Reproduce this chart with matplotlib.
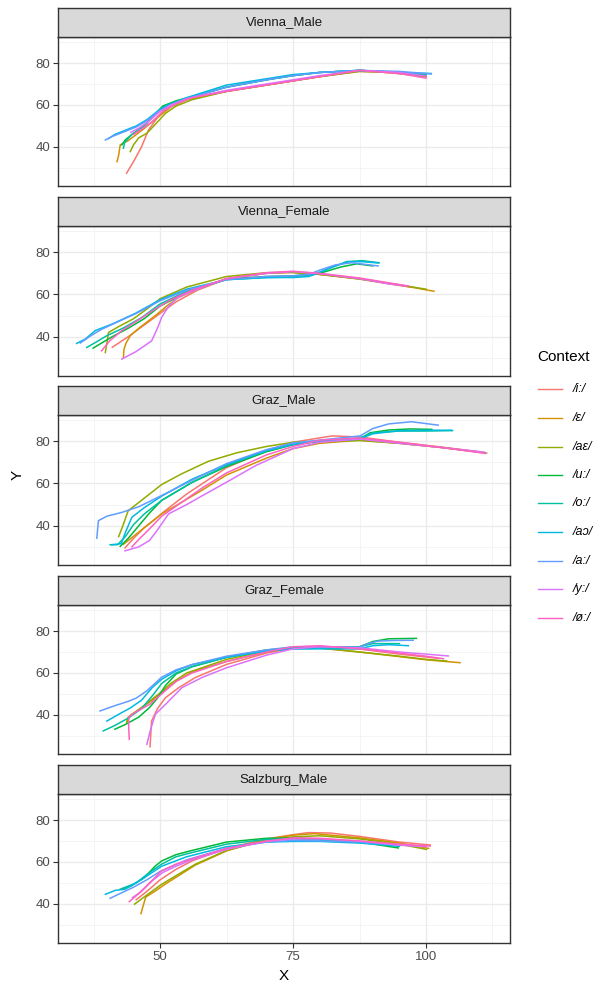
import matplotlib
matplotlib.use("Agg")
import matplotlib.pyplot as plt
from matplotlib.lines import Line2D

plt.rcParams['font.family'] = ['Liberation Sans', 'DejaVu Sans']

panels = ["Vienna_Male", "Vienna_Female", "Graz_Male", "Graz_Female", "Salzburg_Male"]
contexts = ["/i:/", "/ɛ/", "/aɛ/", "/u:/", "/o:/", "/aɔ/", "/a:/", "/y:/", "/ø:/"]
colors = ["#F8766D", "#D39200", "#93AA00", "#00BA38", "#00C19F",
          "#00B9E3", "#619CFF", "#DB72FB", "#FF61C3"]
x_ticks = [50, 75, 100]
y_ticks = [40, 60, 80]

vienna_male = {
    "/i:/": ([43.7, 45, 46.5, 47.8, 49.5, 52, 55, 62.5, 70, 75, 80, 87.5, 93, 100],
             [27.5, 33, 40, 48, 54, 60.5, 63, 66.5, 69.5, 71.5, 73.5, 76, 75.5, 73.5]),
    "/ɛ/": ([41.9, 42.2, 42.5, 44, 46.6, 49, 52, 55, 62.5, 70, 75, 80, 87.5, 95, 100],
            [33, 36, 41, 43, 48, 53, 59, 62.5, 66.5, 69.5, 71.5, 73.5, 76.5, 75, 73.5]),
    "/aɛ/": ([44.4, 45, 46, 47.5, 49, 51, 53, 56, 62.5, 70, 75, 80, 87.5, 95, 99],
             [37.8, 41, 44.4, 46.5, 50.5, 56, 59.5, 62.5, 66.5, 69.5, 71.5, 73.5, 76, 75.5, 74]),
    "/u:/": ([42.8, 43.5, 45, 47, 49, 50.5, 53, 56, 62.5, 70, 75, 80, 87.5, 95, 100],
             [41, 43.5, 46.5, 50, 55.5, 59.5, 62, 64, 68.5, 72, 74, 75.5, 76.5, 75.5, 74]),
    "/o:/": ([43.1, 43.3, 44.7, 46.5, 48.5, 50.5, 53, 56, 62.5, 70, 75, 80, 87.5, 95, 100],
             [39.4, 42, 46, 49, 54, 59, 61.5, 64, 68.5, 72, 74, 75.5, 76.5, 75.5, 74.5]),
    "/aɔ/": ([40.3, 41.5, 43.5, 45.5, 47.5, 49.5, 51.5, 55, 62.5, 70, 75, 80, 87.5, 95, 101],
             [44, 46, 48, 50, 53, 57, 60, 63.5, 69.5, 72.5, 74.5, 75.5, 76.5, 75.5, 75]),
    "/a:/": ([39.7, 41, 43, 45.5, 47.5, 49.5, 52, 55, 62.5, 70, 75, 80, 87.5, 95, 101],
             [43.3, 45, 47, 49.5, 52.5, 56.5, 60, 63, 68.5, 72, 74, 75.5, 76.5, 76, 74.8]),
    "/y:/": ([44.5, 46, 48, 50, 52, 55, 62.5, 70, 75, 80, 87.5, 95, 100],
             [47, 49, 52.5, 57, 60, 63, 67, 70, 72, 74, 76.5, 75.5, 73.8]),
    "/ø:/": ([45, 46.5, 48.5, 50.5, 53, 56, 62.5, 70, 75, 80, 87.5, 95, 100],
             [46, 48.5, 52, 57, 60.5, 63.5, 66.5, 69.5, 71.5, 73.5, 76.5, 75, 72.8]),
}

vienna_female = {
    "/i:/": ([41, 44, 47, 50, 53, 57, 62.5, 70, 75, 80, 87.5, 93, 97],
             [35, 40, 45.5, 51, 56.5, 62, 67.3, 70, 70.5, 69.5, 67.3, 65, 63.5]),
    "/ɛ/": ([43.1, 43.2, 43.6, 44.4, 46, 49.1, 51.5, 53.4, 57, 62.5, 70, 75, 80, 87.5, 95, 101.5],
            [30.1, 34, 37, 40.5, 44, 50, 55, 58.5, 62.5, 67.5, 70, 70.5, 69.5, 67.5, 64.5, 61.5]),
    "/aɛ/": ([39.7, 40, 40.3, 42, 45, 48, 50, 55, 62.5, 70, 74, 80, 87.5, 95, 100],
             [32.5, 37, 42, 44.5, 48.5, 54, 58, 63.5, 68.5, 70.3, 70.5, 69.5, 67.3, 64.5, 62.5]),
    "/u:/": ([37.4, 39, 41, 44, 47, 50, 55, 62.5, 70, 75, 80, 84, 87, 90],
             [34.6, 37, 40, 44, 48.5, 54.5, 61, 67.3, 68.5, 68.8, 70, 73, 74.5, 73.5]),
    "/o:/": ([36.2, 38, 40, 43, 46.5, 50, 55, 62.5, 70, 75, 79, 82, 85, 88, 91.2],
             [34.9, 37.5, 40.5, 44, 49, 55.5, 61.5, 67, 68, 68.3, 69.5, 72.5, 75.5, 76, 75]),
    "/aɔ/": ([34.3, 36, 37.8, 41, 45.3, 50, 55, 62.5, 70, 75, 78, 80, 83, 85.5, 88, 91],
             [36.8, 39, 42.9, 46, 51, 57.5, 62.5, 67, 68, 68, 68.5, 70.5, 73.5, 75.5, 75.5, 74.9]),
    "/a:/": ([35, 37, 39, 42, 45.5, 50, 55, 62.5, 70, 75, 78, 80, 83, 86, 91],
             [37, 40.5, 43.5, 47, 51, 57, 62, 67, 68.5, 68.8, 69.5, 71.5, 74, 75, 73.5]),
    "/y:/": ([42.8, 45.5, 48.4, 49.5, 50.3, 51.5, 53.1, 56, 62.5, 70, 75, 80, 87.5, 93, 96.5],
             [29.4, 33, 38, 44, 49.2, 54, 58.2, 61.5, 67.5, 70, 70.8, 69.8, 67.5, 65, 64]),
    "/ø:/": ([39, 40.5, 42.8, 46, 49, 52, 56, 62.5, 70, 75, 80, 87.5, 93, 96.7],
             [33.3, 38, 42.9, 48, 53, 57.5, 62, 67.5, 70.3, 71, 70, 67.8, 65.5, 64]),
}

graz_male = {
    "/i:/": ([43.4, 45, 47, 49, 50.9, 55, 62.5, 70, 75, 82.3, 87.5, 95, 103, 110],
             [29.5, 34, 39, 43, 47, 55, 67.5, 75.5, 79.5, 82.5, 82, 79.5, 77.2, 75]),
    "/ɛ/": ([43.1, 45, 47.5, 50.3, 54, 58, 62.5, 70, 75, 80, 87.5, 95, 103, 111],
            [31.2, 35, 40, 45.6, 51, 57, 64, 72, 76.5, 79, 80.5, 79, 77, 74.5]),
    "/aɛ/": ([42.2, 43, 44, 46.5, 50.3, 54, 59.1, 64.4, 70, 75, 80, 87.5, 95, 103, 111.4],
             [34.8, 40, 47.1, 52, 59.5, 64.5, 70.5, 74.5, 77.5, 79.5, 80, 80.3, 79, 77, 74.4]),
    "/u:/": ([42.5, 44, 46, 48, 50.3, 56, 62.5, 70, 75, 80, 87.5, 89.5, 93, 97, 101.1],
             [30.2, 34, 40, 46, 52, 60.5, 68, 75, 78.3, 80, 81, 84, 85.3, 85.8, 85.6]),
    "/o:/": ([40.6, 42, 43.5, 45, 47, 50.3, 56, 62.5, 70, 75, 80, 87.5, 90, 95, 100, 105],
             [31, 31, 35, 40.5, 45.5, 52, 60.5, 68.5, 75.5, 78.5, 80, 81.5, 84, 84.8, 84.8, 85]),
    "/aɔ/": ([40.9, 42.7, 43.5, 44.7, 47, 50.3, 56, 62.5, 70, 75, 80, 87.5, 90, 95, 100, 104.8],
             [31, 31.5, 37, 44, 48.5, 54, 62, 69, 75.5, 78.5, 80, 81, 83.5, 85, 85.2, 85.2]),
    "/a:/": ([38.1, 38.4, 40, 42.8, 46, 50.3, 56, 62.5, 70, 75, 80, 87.6, 90, 93, 97.3, 102.3],
             [34.1, 42.4, 44.5, 46.3, 49, 54.3, 61.5, 69.4, 76, 79.2, 80.5, 82.5, 86, 88.2, 89.2, 87.6]),
    "/y:/": ([43.4, 46, 48, 49.5, 51.6, 55, 58.5, 62.5, 68, 75, 80, 87.5, 95, 103, 111],
             [28.1, 30, 33, 38, 45.6, 50, 55, 60.6, 68.5, 76.5, 79.5, 81, 79, 77, 74.8]),
    "/ø:/": ([44.7, 46, 48, 50.3, 54, 58, 62.5, 70, 75, 80, 87.5, 95, 103, 111.2],
             [30, 33.5, 38.5, 44.5, 51, 58, 65, 73.5, 77.5, 80.5, 81.5, 79.5, 77, 74.2]),
}

graz_female = {
    "/i:/": ([48.1, 48.4, 49.5, 51, 53.5, 56.6, 62.5, 70, 75, 80, 87.6, 95, 102.2],
             [24.8, 37.1, 43, 48.2, 53, 57.8, 64.1, 69.5, 71.9, 72.3, 71.4, 69, 67]),
    "/ɛ/": ([43.8, 44.5, 46.5, 48.5, 50.5, 53, 56, 62.5, 70, 75, 80, 87.5, 95, 100, 106.4],
            [37, 40, 43.5, 47, 51, 56, 60.5, 65.5, 70, 71.8, 71.8, 70, 67.8, 66.3, 64.9]),
    "/aɛ/": ([43.7, 44, 46, 48, 50, 52, 55, 62.5, 70, 75, 80, 87.5, 95, 100, 103.9],
             [36.3, 39, 42.5, 46.5, 50.5, 55, 60, 66.5, 70.5, 72, 72, 70, 68, 66.5, 65.7]),
    "/u:/": ([41.5, 43.5, 46, 48, 49.5, 51, 53, 56, 62.5, 70, 75, 80, 87.5, 90, 93, 98.2],
             [33.2, 35.5, 39, 43.5, 48, 54, 59.5, 63, 67.5, 71, 72, 72.5, 72.5, 75, 76.3, 76.5]),
    "/o:/": ([39.3, 41.5, 44, 46.5, 48.5, 50.3, 53, 56, 62.5, 70, 75, 80, 87.5, 90, 95],
             [32.4, 35, 38.5, 43, 49, 55, 60, 63, 67.5, 70.5, 71.5, 71.8, 72.5, 74, 74]),
    "/aɔ/": ([40, 42, 44.5, 46.5, 48.5, 50.3, 53, 56, 62.5, 70, 75, 80, 87.5, 90, 93, 96.7],
             [37.1, 40, 43.5, 47, 53, 57, 61, 64, 67.5, 70.5, 71.5, 71.5, 71.5, 73, 73.5, 73]),
    "/a:/": ([38.7, 41, 44, 45.5, 47.5, 50.3, 53, 56, 62.5, 70, 75, 80, 87.6, 89, 91, 94, 97.6],
             [41.9, 44, 46.5, 48, 51.5, 58, 61.5, 64, 68, 71, 72.5, 72.5, 72.3, 74, 75.2, 75.5, 75.6]),
    "/y:/": ([47.5, 48.2, 49.1, 51, 54.1, 58, 62.5, 70, 75, 80, 87.5, 95, 100, 104.2],
             [26, 33, 40.3, 45, 53, 58, 62.5, 68.5, 71.5, 72.5, 72, 70, 69, 68.1]),
    "/ø:/": ([44.2, 44.1, 44.1, 45.5, 48, 50.5, 53, 56, 62.5, 70, 75, 80, 87.5, 95, 100, 103.3],
             [28.4, 34, 39, 41.5, 45, 50.5, 56, 60, 65.5, 70, 72.5, 73, 71.5, 69.5, 68, 66.8]),
}

salzburg_male = {
    "/i:/": ([45.5, 47.5, 50, 53, 56, 62.5, 70, 75, 77.9, 82, 87.5, 95, 100.8],
             [42, 46, 51.5, 56.5, 60.5, 66.5, 71, 73, 74, 73.8, 72.2, 69.5, 68.1]),
    "/ɛ/": ([46.4, 46.8, 47.3, 49, 51, 53.5, 56.6, 62.5, 70, 75, 79.1, 87.5, 95, 100.5],
            [35.4, 39, 43.3, 46, 49.5, 53.5, 58.5, 65.3, 70.8, 72.8, 73.5, 71.5, 69, 66.5]),
    "/aɛ/": ([45.2, 47.2, 50.3, 53, 56.6, 62.5, 70, 75, 80, 87.5, 95, 100.1],
             [39.9, 43.7, 49.4, 53.5, 58.9, 65.5, 70.5, 72, 72.5, 71, 68.5, 66]),
    "/u:/": ([42.5, 44.5, 47, 49.1, 50.3, 53, 56, 62.5, 70, 75, 80, 87.5, 94.8],
             [47, 48.5, 52.5, 58.1, 60.5, 63.5, 65.5, 69.5, 71.3, 71.4, 71, 69.5, 66.7]),
    "/o:/": ([43, 45.5, 48, 50.3, 53, 56, 62.5, 70, 75, 80, 87.5, 95],
             [47.5, 50, 55, 59, 62.5, 64.5, 68.5, 70.8, 71, 70.5, 69.5, 67.5]),
    "/aɔ/": ([39.7, 41.6, 43.4, 46.6, 50.3, 55, 62.5, 70, 75, 80, 87.6, 94.8],
             [44.6, 46.5, 47, 51.8, 58, 62.5, 67.3, 69.5, 69.8, 69.8, 69, 67.6]),
    "/a:/": ([40.6, 42.5, 45, 47.5, 50, 55, 62.5, 70, 75, 80, 87.5, 95],
             [42.7, 45, 48, 51.5, 55.5, 61, 66.5, 69.5, 70.3, 70, 69.5, 68]),
    "/y:/": ([44.8, 46.5, 48.5, 50.5, 53, 56, 62.5, 70, 75, 80, 87.5, 95, 100],
             [43, 46, 51, 55, 58, 61, 66, 69.8, 71, 71, 70, 68, 67.3]),
    "/ø:/": ([44.2, 46, 48, 50.3, 53, 56, 62.5, 70, 75, 80, 87.5, 95, 100.8],
             [41.1, 45, 50, 55.8, 59, 61.5, 66.5, 70, 71.5, 71.3, 70, 68.5, 67.6]),
}

panel_data = [vienna_male, vienna_female, graz_male, graz_female, salzburg_male]

W, H = 601, 984
fig = plt.figure(figsize=(W / 100, H / 100), dpi=100)
fig.patch.set_facecolor("white")

left_px, right_px = 58, 510
panel_px = [(37, 186), (226, 376), (415, 565), (605, 754), (794, 943)]
strip_h = 29
xlim = (30.8, 115.8)
ylim = (21.4, 92.4)

def fbox(x0, y0, x1, y1):
    return [x0 / W, 1 - y1 / H, (x1 - x0) / W, (y1 - y0) / H]

for i, (name, data) in enumerate(zip(panels, panel_data)):
    top, bot = panel_px[i]
    ax = fig.add_axes(fbox(left_px, top, right_px, bot))
    ax.set_xlim(*xlim)
    ax.set_ylim(*ylim)
    ax.set_facecolor("white")
    ax.set_xticks(x_ticks)
    ax.set_yticks(y_ticks)
    ax.set_xticks([37.5, 62.5, 87.5, 112.5], minor=True)
    ax.set_yticks([30, 50, 70, 90], minor=True)
    ax.grid(True, which="major", color="#EBEBEB", lw=1.0)
    ax.grid(True, which="minor", color="#F2F2F2", lw=0.6)
    ax.set_axisbelow(True)
    for s in ax.spines.values():
        s.set_color("#333333")
        s.set_linewidth(1.0)
    ax.tick_params(axis="both", which="major", length=3.5, width=0.8, color="#333333",
                   labelsize=9.5, labelcolor="#4D4D4D", pad=2)
    ax.tick_params(axis="both", which="minor", length=0)
    if i < len(panels) - 1:
        ax.tick_params(axis="x", which="major", length=0, labelbottom=False)
    for ctx, col in zip(contexts, colors):
        xs, ys = data[ctx]
        ax.plot(xs, ys, color=col, lw=1.1, solid_joinstyle="round")
    # strip
    sax = fig.add_axes(fbox(left_px, top - strip_h, right_px, top))
    sax.set_facecolor("#D9D9D9")
    sax.set_xticks([])
    sax.set_yticks([])
    for s in sax.spines.values():
        s.set_color("#333333")
        s.set_linewidth(1.0)
    sax.text(0.5, 0.5, name, ha="center", va="center", fontsize=9.5, color="#1A1A1A",
             transform=sax.transAxes)

fig.text(284 / W, 1 - 976 / H, "X", ha="center", va="center", fontsize=11, color="black")
fig.text(18 / W, 1 - 475 / H, "Y", ha="center", va="center", fontsize=11, color="black",
         rotation=90)

# legend
fig.text(537 / W, 1 - 357 / H, "Context", ha="left", va="center", fontsize=11, color="black")
leg_y = [389.3, 417.7, 446.7, 475, 503.3, 532.3, 561, 589.3, 617.7]
for ctx, col, yy in zip(contexts, colors, leg_y):
    fig.add_artist(Line2D([538 / W, 561.5 / W], [1 - yy / H, 1 - yy / H], color=col, lw=1.0))
    fig.text(573 / W, 1 - yy / H, ctx, ha="left", va="center", fontsize=9, color="black",
             style="italic")

fig.savefig("out.png", dpi=100, facecolor="white")
